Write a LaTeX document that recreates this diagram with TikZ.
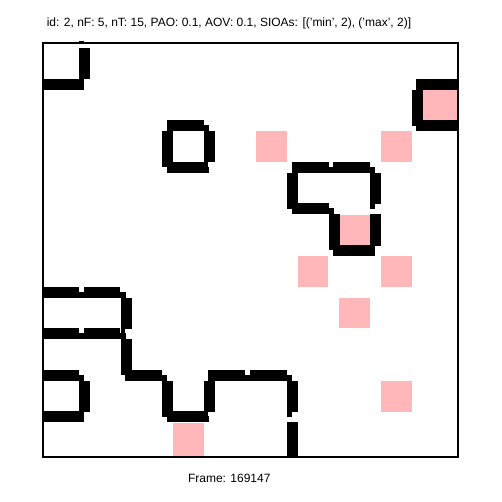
\documentclass[tikz,border=0pt]{standalone}
\usepackage{fontspec}
\setmainfont{Liberation Sans}
\usepackage{tikz}
\definecolor{goalPink}{RGB}{255,183,186}

\newcommand{\hwall}[2]{%
  \fill (#1,#2-0.12) rectangle (#1+0.887,#2+0.144);
  \fill (#1,#2) rectangle (#1+1.012,#2+0.144);}
\newcommand{\vwall}[2]{%
  \fill (#1-0.108,#2+0.144) rectangle (#1+0.156,#2+0.892);
  \fill (#1-0.108,#2+0.144) rectangle (#1,#2+1.012);}

\begin{document}
\begin{tikzpicture}[x=41.6pt,y=-41.6pt,font=\fontsize{12}{14}\selectfont,
        lbl/.style={inner sep=0pt,anchor=center},
        goal/.style={fill=goalPink}]
  \useasboundingbox (-1.0096,-1.0096) rectangle (11.0577,11.0577);
  \begin{scope}
    \clip (0,0) rectangle (10,10);
    \foreach \c/\r in {5/2,8/2,7/4,6/5,8/5,7/6,8/8}
      \fill[goal] (\c+0.151,\r+0.151) rectangle (\c+0.885,\r+0.885);
    \fill[goal] (9.15,1.1) rectangle (10,1.9);
    \fill[goal] (3.151,9.15) rectangle (3.885,10);
    % walls
    \foreach \u/\v in {0/1,3/2,3/3,6/3,7/3,6/4,7/5,0/6,1/6,0/7,1/7,
                       2/8,0/8,4/8,5/8,0/9,3/9}
      \hwall{\u}{\v}
    \foreach \u/\v in {1/-1,1/0,3/2,4/2,9/1,6/3,8/3,7/4,8/4,2/6,2/7,
                       1/8,3/8,4/8,6/8}
      \vwall{\u}{\v}
    \fill (9,0.88) rectangle (10,1.144);
    \fill (9,1.88) rectangle (10,2.144);
    \fill (5.892,9.144) rectangle (6.156,10);
  \end{scope}
  \draw[line width=2pt] (0.036,0.031) rectangle (9.993,9.986);
  \node[lbl] (title) at (4.495,-0.457)
    {id: 2, nF: 5, nT: 15, PAO: 0.1, AOV: 0.1, SIOAs: [('min', 2), ('max', 2)]};
  \node[lbl] (frame) at (4.502,10.481) {Frame: 169147};
\end{tikzpicture}
\end{document}
